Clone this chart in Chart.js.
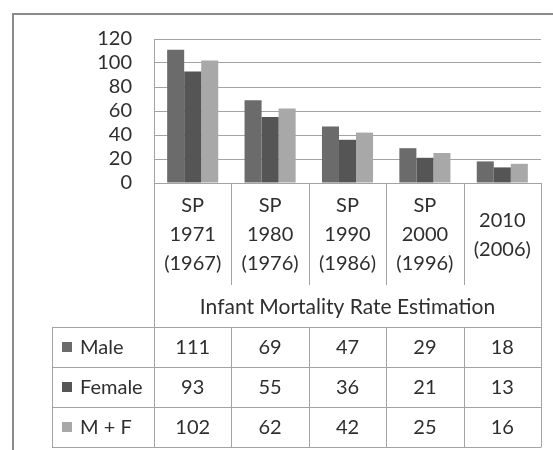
<!DOCTYPE html>
<html lang="en">
  <head>
    <meta charset="UTF-8" />
    <title>Infant Mortality Rate Estimation</title>
  </head>
  <style>
    * {
      margin: 0;
      padding: 0;
    }
    body {
      background: white;
    }
    canvas {
      display: block;
    }
  </style>
  <body>
    <canvas id="myChart" width="553" height="450"></canvas>

    <script src="https://cdn.jsdelivr.net/npm/chart.js"></script>

    <script>
      // data
      const categories = [
        ["SP", "1971", "(1967)"],
        ["SP", "1980", "(1976)"],
        ["SP", "1990", "(1986)"],
        ["SP", "2000", "(1996)"],
        ["2010", "(2006)"]
      ];
      const seriesNames = ["Male", "Female", "M + F"];
      const male = [111, 69, 47, 29, 18];
      const female = [93, 55, 36, 21, 13];
      const maleFemale = [102, 62, 42, 25, 16];
      const yMin = 0;
      const yMax = 120;
      const yStep = 20;
      const axisTitle = "Infant Mortality Rate Estimation";

      const seriesValues = [male, female, maleFemale];
      const seriesColors = ["#6b6b6b", "#555555", "#a8a8a8"];

      const FONT = "20px Lato";
      const TEXT = "#2e2e2e";
      const LINE = "#a3a3a3";

      // data table drawn under the plot
      const dataTable = {
        id: "dataTable",
        afterDraw: (chart) => {
          const { ctx, chartArea, scales } = chart;
          const x = scales.x;
          const top = chartArea.bottom;
          const labelBottom = 285;
          const rowTop = 327;
          const rowH = 40;
          const tableLeft = 52;
          const bound = (i) => Math.round(x.getPixelForValue(i - 0.5)) + 0.5;
          const n = categories.length;
          const tableBottom = rowTop + rowH * seriesNames.length;

          ctx.save();

          // frame
          ctx.strokeStyle = "#8a8a8a";
          ctx.lineWidth = 2;
          ctx.beginPath();
          ctx.moveTo(13, 450);
          ctx.lineTo(13, 14);
          ctx.lineTo(553, 14);
          ctx.stroke();

          // table lines
          ctx.strokeStyle = LINE;
          ctx.lineWidth = 1;
          ctx.beginPath();
          for (let i = 0; i <= n; i++) {
            const bx = bound(i);
            if (i === 0 || i === n) {
              ctx.moveTo(bx, top);
              ctx.lineTo(bx, tableBottom);
            } else {
              ctx.moveTo(bx, top);
              ctx.lineTo(bx, labelBottom);
              ctx.moveTo(bx, rowTop);
              ctx.lineTo(bx, tableBottom);
            }
          }
          ctx.moveTo(tableLeft + 0.5, rowTop);
          ctx.lineTo(tableLeft + 0.5, tableBottom);
          for (let r = 0; r <= seriesNames.length; r++) {
            const y = rowTop + r * rowH + 0.5;
            ctx.moveTo(tableLeft, y);
            ctx.lineTo(bound(n), y);
          }
          ctx.stroke();

          // category labels
          ctx.fillStyle = TEXT;
          ctx.font = FONT;
          ctx.textAlign = "center";
          ctx.textBaseline = "middle";
          const lineH = 29;
          const midY = 235;
          categories.forEach((lines, i) => {
            const cx = x.getPixelForValue(i);
            const start = midY - ((lines.length - 1) * lineH) / 2;
            lines.forEach((t, k) => ctx.fillText(t, cx, start + k * lineH));
          });

          // axis title
          ctx.font = "21px Lato";
          ctx.fillText(axisTitle, (chartArea.left + chartArea.right) / 2, 307);
          ctx.font = FONT;

          // rows
          seriesNames.forEach((name, r) => {
            const cy = rowTop + r * rowH + rowH / 2;
            ctx.fillStyle = seriesColors[r];
            ctx.fillRect(62, cy - 5, 10, 10);
            ctx.fillStyle = TEXT;
            ctx.textAlign = "left";
            ctx.fillText(name, 80, cy + 1);
            ctx.textAlign = "center";
            seriesValues[r].forEach((v, i) => {
              ctx.fillText(String(v), x.getPixelForValue(i), cy + 1);
            });
          });

          ctx.restore();
        }
      };

      const data = {
        labels: categories.map((c) => c.join(" ")),
        datasets: seriesNames.map((name, i) => ({
          label: name,
          data: seriesValues[i],
          backgroundColor: seriesColors[i],
          borderWidth: 0,
          categoryPercentage: 0.66,
          barPercentage: 1
        }))
      };

      const config = {
        type: "bar",
        data,
        options: {
          responsive: false,
          animation: false,
          layout: {
            padding: { left: 0, top: 39, right: 12, bottom: 267 }
          },
          plugins: {
            legend: { display: false },
            tooltip: { enabled: false }
          },
          scales: {
            x: {
              display: false
            },
            y: {
              min: yMin,
              max: yMax,
              afterFit: (scale) => {
                scale.width = 154;
              },
              ticks: {
                stepSize: yStep,
                autoSkip: false,
                padding: 22,
                color: TEXT,
                font: { family: "Lato", size: 20 }
              },
              grid: {
                color: LINE,
                drawTicks: false
              },
              border: {
                display: true,
                color: LINE
              }
            }
          }
        },
        plugins: [dataTable]
      };

      const ctx = document.getElementById("myChart");
      const myChart = new Chart(ctx, config);
    </script>
  </body>
</html>
